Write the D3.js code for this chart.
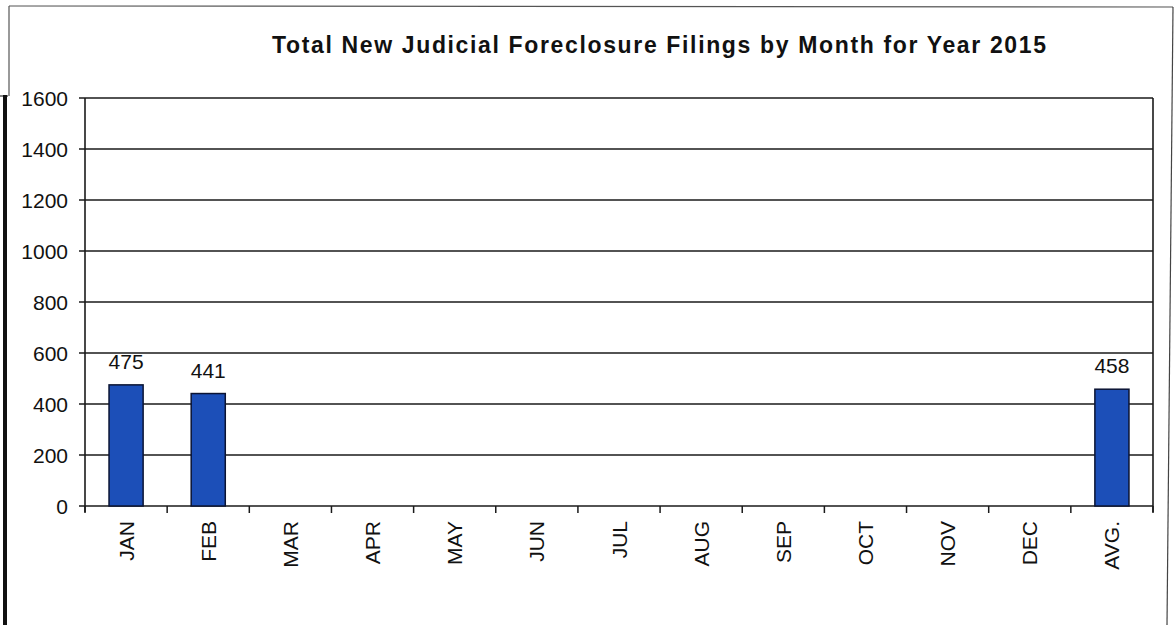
<!DOCTYPE html>
<html>
<head>
<meta charset="utf-8">
<script src="https://cdn.jsdelivr.net/npm/d3@7"></script>
<style>
  body { margin: 0; background: #fff; }
  svg { display: block; font-family: "Liberation Sans", Arial, sans-serif; }
</style>
</head>
<body>
<div id="chart-area"></div>
<script>
// chart data
const months = ["JAN", "FEB", "MAR", "APR", "MAY", "JUN", "JUL", "AUG", "SEP", "OCT", "NOV", "DEC", "AVG."];
const filings = [475, 441, null, null, null, null, null, null, null, null, null, null, 458];
const yTicks = [0, 200, 400, 600, 800, 1000, 1200, 1400, 1600];
const title = "Total New Judicial Foreclosure Filings by Month for Year 2015";

const W = 1176, H = 625;
const plot = { left: 85, right: 1153, top: 98, bottom: 506 };

const svg = d3
  .select("#chart-area")
  .append("svg")
  .attr("width", W)
  .attr("height", H);

// scanned page frame
svg.append("line")
  .attr("x1", 9).attr("y1", 6).attr("x2", 1173).attr("y2", 7)
  .attr("stroke", "#555").attr("stroke-width", 1.2);
svg.append("line")
  .attr("x1", 9).attr("y1", 6).attr("x2", 9).attr("y2", 96)
  .attr("stroke", "#555").attr("stroke-width", 1.2);
svg.append("line")
  .attr("x1", 0).attr("y1", 96).attr("x2", 8).attr("y2", 96)
  .attr("stroke", "#333").attr("stroke-width", 1.2);
svg.append("line")
  .attr("x1", 5).attr("y1", 95).attr("x2", 5).attr("y2", H)
  .attr("stroke", "#111").attr("stroke-width", 4);
svg.append("line")
  .attr("x1", 1173).attr("y1", 7).attr("x2", 1167).attr("y2", H)
  .attr("stroke", "#444").attr("stroke-width", 1.2);

// title
svg.append("text")
  .attr("x", 272)
  .attr("y", 53)
  .attr("textLength", 774)
  .attr("lengthAdjust", "spacing")
  .attr("font-size", 23)
  .attr("font-weight", "bold")
  .attr("fill", "#111")
  .text(title);

const y = d3.scaleLinear().domain([0, 1600]).range([plot.bottom, plot.top]);
const x = d3.scaleBand()
  .domain(months)
  .range([plot.left, plot.right])
  .paddingInner(0.585)
  .paddingOuter(0.2925);
const xEdge = d3.scaleLinear().domain([0, months.length]).range([plot.left, plot.right]);

// gridlines
svg.append("g")
  .selectAll("line")
  .data(yTicks)
  .enter()
  .append("line")
  .attr("x1", plot.left - 6)
  .attr("x2", plot.right)
  .attr("y1", (d) => y(d))
  .attr("y2", (d) => y(d))
  .attr("stroke", "#1a1a1a")
  .attr("stroke-width", 1.5);

// y tick labels
svg.append("g")
  .selectAll("text")
  .data(yTicks)
  .enter()
  .append("text")
  .attr("x", plot.left - 17)
  .attr("y", (d) => y(d))
  .attr("dy", "0.36em")
  .attr("text-anchor", "end")
  .attr("font-size", 21)
  .attr("fill", "#111")
  .text((d) => d);

// axis lines
svg.append("line")
  .attr("x1", plot.left).attr("x2", plot.left)
  .attr("y1", plot.top).attr("y2", plot.bottom + 6)
  .attr("stroke", "#1a1a1a").attr("stroke-width", 1.6);
svg.append("line")
  .attr("x1", plot.right).attr("x2", plot.right)
  .attr("y1", plot.top).attr("y2", plot.bottom + 6)
  .attr("stroke", "#1a1a1a").attr("stroke-width", 1.6);

// x ticks at category edges
svg.append("g")
  .selectAll("line")
  .data(d3.range(months.length + 1))
  .enter()
  .append("line")
  .attr("x1", (d) => xEdge(d))
  .attr("x2", (d) => xEdge(d))
  .attr("y1", plot.bottom)
  .attr("y2", plot.bottom + 7)
  .attr("stroke", "#1a1a1a")
  .attr("stroke-width", 1.5);

// bars
const rows = months.map((m, i) => ({ m: m, v: filings[i] })).filter((d) => d.v != null);

svg.append("g")
  .selectAll("rect")
  .data(rows)
  .enter()
  .append("rect")
  .attr("x", (d) => x(d.m))
  .attr("y", (d) => y(d.v))
  .attr("width", x.bandwidth())
  .attr("height", (d) => y(0) - y(d.v))
  .attr("fill", "#1c4fb8")
  .attr("stroke", "#0b1433")
  .attr("stroke-width", 1.5);

// value labels
svg.append("g")
  .selectAll("text")
  .data(rows)
  .enter()
  .append("text")
  .attr("x", (d) => x(d.m) + x.bandwidth() / 2)
  .attr("y", (d) => y(d.v) - 16)
  .attr("text-anchor", "middle")
  .attr("font-size", 21)
  .attr("fill", "#111")
  .text((d) => d.v);

// month labels, rotated
svg.append("g")
  .selectAll("text")
  .data(months)
  .enter()
  .append("text")
  .attr("transform", (d) => `translate(${x(d) + x.bandwidth() / 2},${plot.bottom + 15}) rotate(-90)`)
  .attr("dy", "0.36em")
  .attr("text-anchor", "end")
  .attr("font-size", 21)
  .attr("fill", "#111")
  .text((d) => d);
</script>
</body>
</html>
